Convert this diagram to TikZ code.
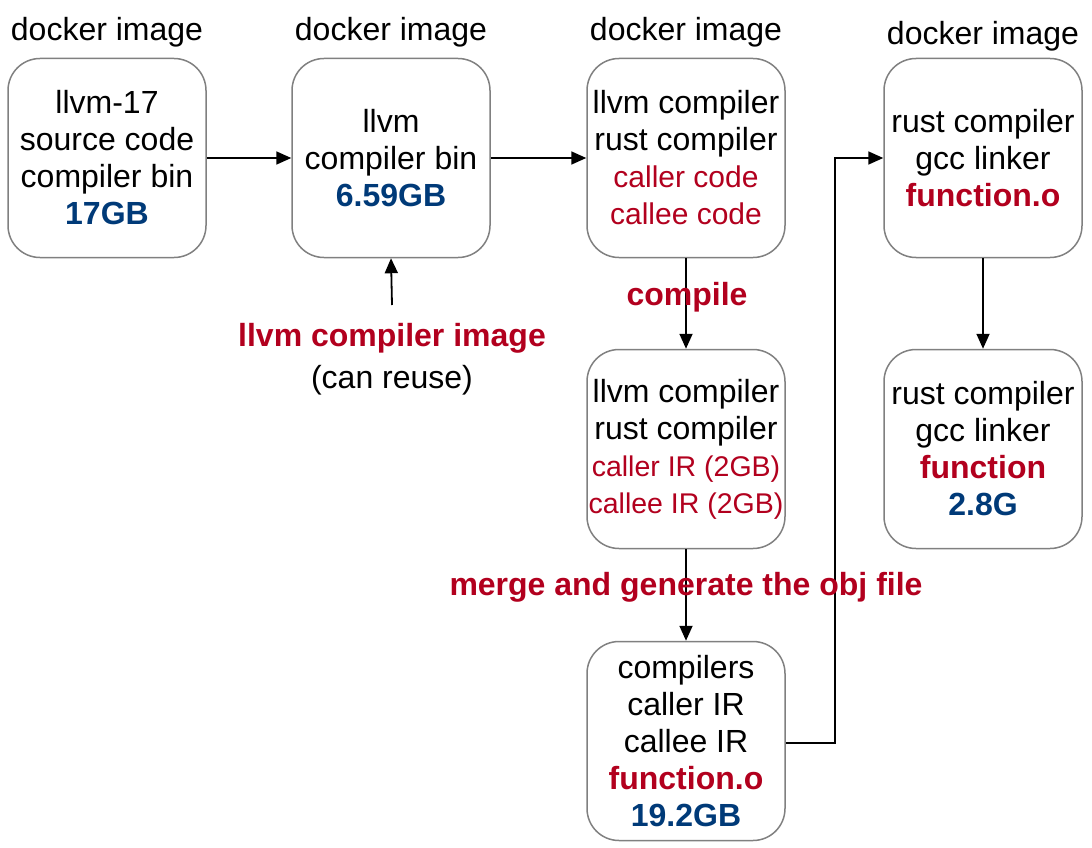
\documentclass[tikz,border=0pt]{standalone}
\usepackage{fontspec}
\setmainfont{Liberation Sans}
\usepackage{tikz}
\usetikzlibrary{calc, positioning, arrows.meta}
\definecolor{tagred}{RGB}{178,0,30}
\definecolor{sizeblue}{RGB}{0,58,120}
\tikzstyle{img}=[draw=black!50, line width=1.5pt, rounded corners=32pt, fill=white, minimum width=198pt, minimum height=199pt, align=center, inner sep=0pt, font=\fontsize{32}{37}\selectfont]
\tikzstyle{txt}=[inner sep=0pt, align=center, font=\fontsize{32}{37}\selectfont]
\tikzstyle{dock}=[inner sep=0pt, font=\fontsize{32}{37}\selectfont]
\tikzstyle{step label}=[inner sep=0pt, align=center, text=tagred, font=\fontsize{32}{37}\selectfont\bfseries]
\tikzstyle{flow}=[line width=1.8pt, ->]
\tikzset{>={Triangle[length=15pt, width=13pt]}}
\newcommand{\thin}[2]{{\fontsize{#1}{37}\selectfont\textcolor{tagred}{#2}}}

\begin{document}
\begin{tikzpicture}[x=1pt, y=-1pt]
\useasboundingbox (0,0) rectangle (1092,848);

\node[img, label={[dock, label distance=10pt]90:docker image}] (src) at (107,158) {llvm-17\\source code\\compiler bin\\\textbf{\textcolor{sizeblue}{17GB}}};
\node[img, label={[dock, label distance=10pt]90:docker image}] (bin) at (391,158) {llvm\\compiler bin\\\textbf{\textcolor{sizeblue}{6.59GB}}};
\node[img, label={[dock, label distance=10pt]90:docker image}] (code) at (686,158) {llvm compiler\\rust compiler\\\thin{30}{caller code}\\\thin{30}{callee code}};
\node[img, label={[dock, label distance=6pt]90:docker image}] (link) at (983,158) {rust compiler\\gcc linker\\\textbf{\textcolor{tagred}{function.o}}};
\node[img] (ir) at (686,449) {llvm compiler\\rust compiler\\\thin{28.5}{caller IR (2GB)}\\\thin{28.5}{callee IR (2GB)}};
\node[img] (exe) at (983,449) {rust compiler\\gcc linker\\\textbf{\textcolor{tagred}{function}}\\\textbf{\textcolor{sizeblue}{2.8G}}};
\node[img] (obj) at (686,741) {compilers\\caller IR\\callee IR\\\textbf{\textcolor{tagred}{function.o}}\\\textbf{\textcolor{sizeblue}{19.2GB}}};

\node[step label] (reuse) at (392,338) {llvm compiler image};
\node[txt] (reusenote) at (392,380) {(can reuse)};
\coordinate (reusetail) at (392,305);
\coordinate (turn) at (835,743);

\draw[flow] (src.east) -- (bin.west);
\draw[flow] (bin.east) -- (code.west);
\draw[flow] (reusetail) -- (bin.south);
\draw[flow] (code.south) -- (ir.north);
\draw[flow] (ir.south) -- (obj.north);
\draw[flow] (link.south) -- (exe.north);
\draw[flow] (obj.east |- turn) -- (turn) |- (link.west);

\node[step label] (compile) at (687,297) {compile};
\node[step label] (merge) at (686,587) {merge and generate the obj file};
\end{tikzpicture}
\end{document}
